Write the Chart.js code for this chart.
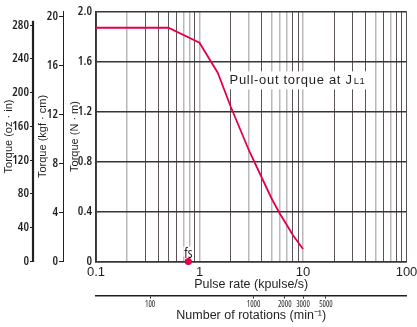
<!DOCTYPE html>
<html><head><meta charset="utf-8">
<script src="https://cdn.jsdelivr.net/npm/chart.js@4/dist/chart.umd.min.js"></script>
<style>html,body{margin:0;padding:0;background:#fff}canvas{display:block}</style>
</head><body>
<canvas id="c" width="417" height="327"></canvas>
<script>
// ---- data ----
const pulseRate = [0.1, 0.5, 1.0, 1.5, 2, 3, 4, 5, 6, 7, 8, 10];          // kpulse/s
const pullOutTorque = [1.87, 1.87, 1.75, 1.51, 1.24, 0.89, 0.67, 0.50, 0.38, 0.29, 0.21, 0.10]; // N·m
const fsPulseRate = [0.78];
const fsTorque = [0];
const xTickLabels = [0.1, 1, 10, 100];
const rpmTickLabels = [100, 1000, 2000, 3000, 5000];
const nmTicks = [0, 0.4, 0.8, 1.2, 1.6, 2.0];
const kgfTicks = [0, 4, 8, 12, 16, 20];
const ozTicks = [0, 40, 80, 120, 160, 200, 240, 280];
const curveLabel = 'Pull-out torque at J';
const curveLabelSub = 'L1';
const curveLabelAt = [1.95, 1.417];
const fsLabel = 'fs';

// ---- styles ----
const INK = '#231f20';
const RED = '#e4004b';
const DARK = '#5b5353';
const LIGHT = '#b9b9b9';
const lightGrid = [1, 6, 7, 9, 11, 13, 14, 15, 18, 22, 24];
const COND = "'Open Sans'";
const SANS = "'Liberation Sans', Arial, sans-serif";
const condFont = (size, w) => ({ family: COND, size: size, weight: (w || '600') + ' condensed' });

const xGridTicks = [];
[0.1, 1, 10].forEach(d => { for (let m = 1; m <= 9; m++) xGridTicks.push(Number((m * d).toPrecision(2))); });
xGridTicks.push(100);

const fixW = w => s => { s.width = w; };
const fixH = h => s => { s.height = h; s.paddingLeft = 0; s.paddingRight = 0; };
const setTicks = arr => s => { s.ticks = arr.map(v => ({ value: v })); };

const overlay = {
  id: 'overlay',
  beforeDatasetsDraw(chart) {
    const { ctx, scales: { x, y } } = chart;
    const px = x.getPixelForValue(curveLabelAt[0]);
    const py = y.getPixelForValue(curveLabelAt[1]);
    ctx.save();
    ctx.letterSpacing = '0.7px';
    ctx.font = '13px ' + SANS;
    const w1 = ctx.measureText(curveLabel).width;
    ctx.font = '9.5px ' + SANS;
    const w2 = ctx.measureText(curveLabelSub).width + 1;
    ctx.fillStyle = '#fff';
    ctx.fillRect(px - 3, py - 13, w1 + w2 + 6, 18);
    ctx.fillStyle = INK;
    ctx.textBaseline = 'alphabetic';
    ctx.textAlign = 'left';
    ctx.font = '13px ' + SANS;
    ctx.fillText(curveLabel, px, py);
    ctx.font = '9.5px ' + SANS;
    ctx.fillText(curveLabelSub, px + w1 + 1, py);
    ctx.restore();
  },
  afterDraw(chart) {
    const { ctx, scales: { x, y, oz } } = chart;
    ctx.save();
    const fx = x.getPixelForValue(fsPulseRate[0]);
    ctx.font = "500 condensed 14px " + COND;
    ctx.fillStyle = '#fff';
    ctx.fillRect(fx - 5, y.getPixelForValue(fsTorque[0]) - 15, 10, 10);
    ctx.fillStyle = INK;
    ctx.textAlign = 'center';
    ctx.textBaseline = 'alphabetic';
    ctx.fillText(fsLabel, fx, y.getPixelForValue(fsTorque[0]) - 4);
    ctx.strokeStyle = INK;
    ctx.lineWidth = 2.2;
    ctx.beginPath();
    ctx.moveTo(oz.right - 1, oz.getPixelForValue(0) + 0.5);
    ctx.lineTo(oz.right - 1, oz.getPixelForValue(285));
    ctx.stroke();
    ctx.restore();
  }
};

new Chart(document.getElementById('c'), {
  type: 'scatter',
  data: {
    datasets: [
      {
        data: pulseRate.map((v, i) => ({ x: v, y: pullOutTorque[i] })),
        showLine: true, borderColor: RED, borderWidth: 1.8, pointRadius: 0, tension: 0,
        xAxisID: 'x', yAxisID: 'y'
      },
      {
        data: fsPulseRate.map((v, i) => ({ x: v, y: fsTorque[i] })),
        pointRadius: 3.6, backgroundColor: RED, borderWidth: 0, clip: false,
        xAxisID: 'x', yAxisID: 'y'
      }
    ]
  },
  options: {
    responsive: false, devicePixelRatio: 1, animation: false,
    layout: { padding: { left: 0, top: 11, right: 10.5, bottom: 0 } },
    plugins: { legend: { display: false }, tooltip: { enabled: false } },
    scales: {
      x: {
        type: 'logarithmic', position: 'bottom', min: 0.1, max: 100, weight: 0,
        afterBuildTicks: setTicks(xGridTicks), afterFit: fixH(34),
        grid: { color: c => lightGrid.includes(c.index) ? LIGHT : DARK,
                lineWidth: c => lightGrid.includes(c.index) ? 1.5 : 1, drawTicks: false },
        border: { display: true, color: '#3b3434', width: 1.6 },
        ticks: { autoSkip: false, maxRotation: 0, padding: 3, color: INK, font: { family: SANS, size: 13 },
                 callback: v => xTickLabels.includes(v) ? String(v) : '' },
        title: { display: true, text: 'Pulse rate (kpulse/s)', color: INK, font: { family: SANS, size: 12.5 }, padding: { top: 0, bottom: 3 } }
      },
      rpm: {
        type: 'logarithmic', position: 'bottom', min: 30, max: 30000, weight: 1,
        afterBuildTicks: setTicks(rpmTickLabels), afterFit: fixH(31.5),
        grid: { drawOnChartArea: false, drawTicks: true, tickLength: 3, color: INK, lineWidth: 1 },
        border: { display: true, color: INK, width: 1.5 },
        ticks: { autoSkip: false, maxRotation: 0, padding: 1.5, color: INK, font: condFont(8, '500'),
                 callback: v => String(v) },
        title: { display: true, text: 'Number of rotations (min⁻¹)', color: INK, font: { family: SANS, size: 12.5 }, padding: { top: 0, bottom: 3.7 } }
      },
      y: {
        type: 'linear', position: 'left', min: 0, max: 2.0, weight: 0,
        afterBuildTicks: setTicks(nmTicks), afterFit: fixW(33),
        grid: { color: '#3b3434', lineWidth: 1.6, drawTicks: false },
        border: { display: true, color: '#3b3434', width: 1.6 },
        ticks: { padding: 4, color: INK, font: condFont(12.5),
                 callback: v => v === 0 ? '0' : v.toFixed(1) },
        title: { display: true, text: 'Torque (N · m)', color: INK, font: { family: SANS, size: 11 }, padding: { top: 5.4, bottom: 0 } }
      },
      kgf: {
        type: 'linear', position: 'left', min: 0, max: 2.0 / 0.0980665, weight: 1,
        afterBuildTicks: setTicks(kgfTicks), afterFit: fixW(29),
        grid: { drawOnChartArea: false, drawTicks: true, tickLength: 4, color: INK, lineWidth: 1 },
        border: { display: true, color: INK, width: 1 },
        ticks: { padding: 1, color: INK, font: condFont(12.5), callback: v => String(v) },
        title: { display: true, text: 'Torque (kgf · cm)', color: INK, font: { family: SANS, size: 11 }, padding: { top: 2.7, bottom: 0 } }
      },
      oz: {
        type: 'linear', position: 'left', min: 0, max: 296, weight: 2,
        afterBuildTicks: setTicks(ozTicks), afterFit: fixW(34),
        grid: { drawOnChartArea: false, drawTicks: true, tickLength: 4, color: INK, lineWidth: 1 },
        border: { display: false },
        ticks: { padding: 1, color: INK, font: condFont(12.5), callback: v => String(v) },
        title: { display: true, text: 'Torque (oz · in)', color: INK, font: { family: SANS, size: 11 }, padding: { top: 2.7, bottom: 0 } }
      }
    }
  },
  plugins: [overlay]
});
</script>
</body></html>
